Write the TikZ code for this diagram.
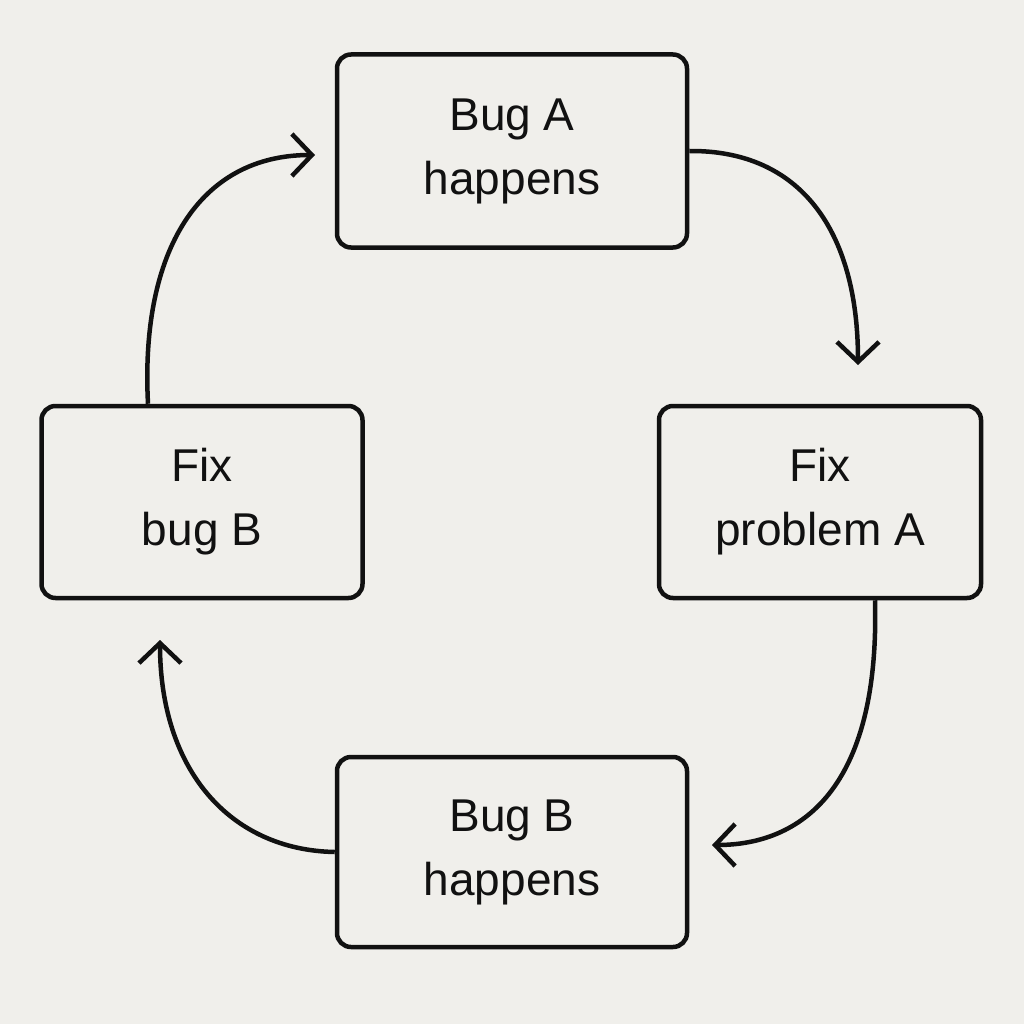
\documentclass[tikz,border=0pt]{standalone}
\usepackage{fontspec}
\setmainfont{Liberation Sans}
\usetikzlibrary{arrows.meta}
\definecolor{bg}{HTML}{F0EFEB}
\definecolor{ink}{HTML}{111111}
\begin{document}
\begin{tikzpicture}[x=1pt,y=-1pt,
  box/.style={draw=ink,line width=4.5pt,rounded corners=14pt,align=center,
    font=\fontsize{46}{64}\selectfont,text=ink,inner sep=0pt},
  conn/.style={draw=ink,line width=4.5pt,-{Straight Barb[length=20pt,width=42pt,line width=4.5pt]}}]
\fill[bg] (0,0) rectangle (1024,1024);
\useasboundingbox (0,0) rectangle (1024,1024);
\node[box,minimum width=350pt,minimum height=193pt] (top) at (512,151) {Bug A\\happens};
\node[box,minimum width=322pt,minimum height=192pt] (right) at (820,502) {Fix\\problem A};
\node[box,minimum width=321pt,minimum height=192pt] (left) at (202,502) {Fix\\bug B};
\node[box,minimum width=350pt,minimum height=190pt] (bottom) at (512,852) {Bug B\\happens};
\coordinate (e1) at (858,365);
\coordinate (e2) at (712,845);
\coordinate (e3) at (160,640);
\coordinate (e4) at (315,155);
\draw[conn] (top.east) .. controls (800,150) and (858,230) .. (e1);
\draw[conn] (right.south -| 875,0) .. controls (880,790) and (800,845) .. (e2);
\draw[conn] (bottom.west) .. controls (230,850) and (160,770) .. (e3);
\draw[conn] (left.north -| 148,0) .. controls (140,250) and (200,155) .. (e4);
\end{tikzpicture}
\end{document}
